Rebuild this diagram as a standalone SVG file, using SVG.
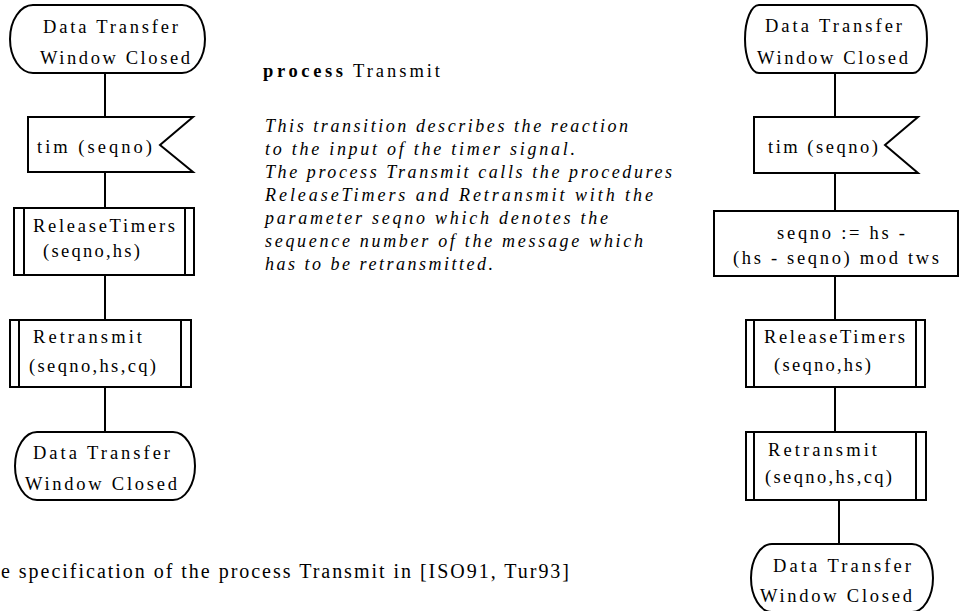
<svg xmlns="http://www.w3.org/2000/svg" width="959" height="611" viewBox="0 0 959 611">
<style>
.s{fill:#fff;stroke:#000;stroke-width:2}
.c line{stroke:#000;stroke-width:2}
.d{stroke:#000;stroke-width:2}
text{font-family:"Liberation Serif","DejaVu Serif",serif;font-size:18.5px;fill:#000}
.i{font-style:italic;font-size:18px}
.b{font-weight:bold}
.cap{font-size:20px}
</style>
<rect width="959" height="611" fill="#fff"/>
<g class="c" id="connectors">
<line x1="105" y1="73" x2="105" y2="117"/>
<line x1="105" y1="172" x2="105" y2="208"/>
<line x1="105" y1="275" x2="105" y2="320"/>
<line x1="105" y1="387" x2="105" y2="432"/>
<line x1="835" y1="73" x2="835" y2="117"/>
<line x1="835" y1="173" x2="835" y2="211"/>
<line x1="835" y1="276" x2="835" y2="320"/>
<line x1="835" y1="387" x2="835" y2="432"/>
<line x1="839" y1="500" x2="839" y2="544"/>
</g>
<g id="l-state1">
<path class="s" d="M33,5H182A23,34 0 0 1 182,73H33A23,34 0 0 1 33,5Z"/>
<text x="43" y="33" textLength="135" lengthAdjust="spacing">Data Transfer</text>
<text x="40" y="64" textLength="150" lengthAdjust="spacing">Window Closed</text>
</g>
<g id="l-input">
<polygon class="s" points="28,117 193,117 160,145 193,172 28,172"/>
<text x="37" y="153" textLength="115" lengthAdjust="spacing">tim (seqno)</text>
</g>
<g id="l-release">
<rect class="s" x="14" y="208" width="180" height="67"/>
<line class="d" x1="24" y1="208" x2="24" y2="275"/>
<line class="d" x1="185" y1="208" x2="185" y2="275"/>
<text x="33" y="232" textLength="142" lengthAdjust="spacing">ReleaseTimers</text>
<text x="43" y="257" textLength="97" lengthAdjust="spacing">(seqno,hs)</text>
</g>
<g id="l-retransmit">
<rect class="s" x="10" y="320" width="181" height="67"/>
<line class="d" x1="19" y1="320" x2="19" y2="387"/>
<line class="d" x1="181" y1="320" x2="181" y2="387"/>
<text x="33" y="343" textLength="109" lengthAdjust="spacing">Retransmit</text>
<text x="29" y="372" textLength="127" lengthAdjust="spacing">(seqno,hs,cq)</text>
</g>
<g id="l-state2">
<path class="s" d="M37,432H173A22,34 0 0 1 173,500H37A22,34 0 0 1 37,432Z"/>
<text x="33" y="459" textLength="137" lengthAdjust="spacing">Data Transfer</text>
<text x="25" y="490" textLength="152" lengthAdjust="spacing">Window Closed</text>
</g>
<g id="comment">
<text x="263" y="77"><tspan class="b" textLength="80" lengthAdjust="spacing">process</tspan></text>
<text x="353" y="77" textLength="87" lengthAdjust="spacing">Transmit</text>
<text class="i" x="265" y="132" textLength="363" lengthAdjust="spacing">This transition describes the reaction</text>
<text class="i" x="265" y="155" textLength="310" lengthAdjust="spacing">to the input of the timer signal.</text>
<text class="i" x="265" y="178" textLength="407" lengthAdjust="spacing">The process Transmit calls the procedures</text>
<text class="i" x="265" y="201" textLength="388" lengthAdjust="spacing">ReleaseTimers and Retransmit with the</text>
<text class="i" x="265" y="224" textLength="343" lengthAdjust="spacing">parameter seqno which denotes the</text>
<text class="i" x="265" y="247" textLength="378" lengthAdjust="spacing">sequence number of the message which</text>
<text class="i" x="265" y="270" textLength="228" lengthAdjust="spacing">has to be retransmitted.</text>
</g>
<g id="caption">
<text class="cap" x="1" y="578" textLength="568" lengthAdjust="spacing">e specification of the process Transmit in [ISO91, Tur93]</text>
</g>
<g id="r-state1">
<path class="s" d="M759,5H913A14,34 0 0 1 913,73H759A14,34 0 0 1 759,5Z"/>
<text x="765" y="32" textLength="137" lengthAdjust="spacing">Data Transfer</text>
<text x="757" y="64" textLength="151" lengthAdjust="spacing">Window Closed</text>
</g>
<g id="r-input">
<polygon class="s" points="754,117 918,117 885,145 918,173 754,173"/>
<text x="768" y="153" textLength="110" lengthAdjust="spacing">tim (seqno)</text>
</g>
<g id="r-task">
<rect class="s" x="714" y="211" width="244" height="65"/>
<text x="777" y="239" textLength="128" lengthAdjust="spacing">seqno := hs -</text>
<text x="733" y="264" textLength="206" lengthAdjust="spacing">(hs - seqno) mod tws</text>
</g>
<g id="r-release">
<rect class="s" x="746" y="320" width="179" height="67"/>
<line class="d" x1="754" y1="320" x2="754" y2="387"/>
<line class="d" x1="916" y1="320" x2="916" y2="387"/>
<text x="764" y="343" textLength="141" lengthAdjust="spacing">ReleaseTimers</text>
<text x="774" y="371" textLength="97" lengthAdjust="spacing">(seqno,hs)</text>
</g>
<g id="r-retransmit">
<rect class="s" x="746" y="432" width="180" height="68"/>
<line class="d" x1="754" y1="432" x2="754" y2="500"/>
<line class="d" x1="916" y1="432" x2="916" y2="500"/>
<text x="768" y="456" textLength="109" lengthAdjust="spacing">Retransmit</text>
<text x="765" y="483" textLength="127" lengthAdjust="spacing">(seqno,hs,cq)</text>
</g>
<g id="r-state2">
<path class="s" d="M772,544H912A21,34 0 0 1 912,612H772A21,34 0 0 1 772,544Z"/>
<text x="773" y="572" textLength="138" lengthAdjust="spacing">Data Transfer</text>
<text x="760" y="602" textLength="152" lengthAdjust="spacing">Window Closed</text>
</g>
</svg>
